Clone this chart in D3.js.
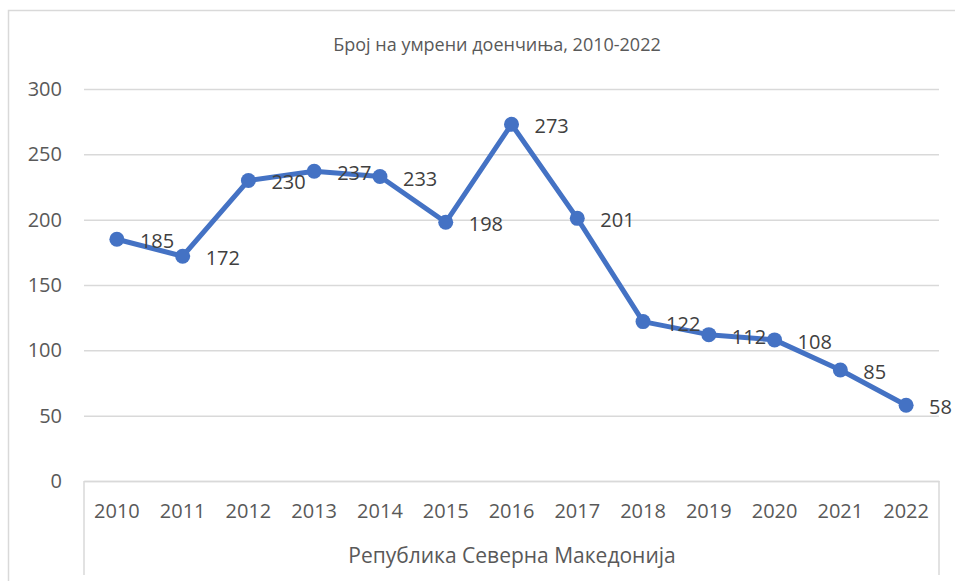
<html>
  <head>
    <script src="https://d3js.org/d3.v7.min.js"></script>
    <style>
      body { margin: 0; background: #fff; }
      text { font-family: "Open Sans", "Noto Sans", sans-serif; }
    </style>
  </head>
  <body>
<div id="chart"></div>
<script>
// data
var years = ["2010","2011","2012","2013","2014","2015","2016","2017","2018","2019","2020","2021","2022"];
var deaths = [185, 172, 230, 237, 233, 198, 273, 201, 122, 112, 108, 85, 58];
var yTicks = [0, 50, 100, 150, 200, 250, 300];
var chartTitle = "Број на умрени доенчиња, 2010-2022";
var groupLabel = "Република Северна Македонија";

var W = 955, H = 581;
var plot = {left: 84, right: 939, top: 89, bottom: 481};

var svg = d3.select("#chart").append("svg")
  .attr("width", W)
  .attr("height", H);

// outer chart border (only top and left visible in the frame)
svg.append("path")
  .attr("d", "M8.5," + (H + 5) + "V10.5H" + (W + 5))
  .attr("fill", "none")
  .attr("stroke", "#d9d9d9")
  .attr("stroke-width", 1.5);

var x = d3.scaleBand()
  .domain(years)
  .range([plot.left, plot.right])
  .padding(0);

var y = d3.scaleLinear()
  .domain([0, 300])
  .range([plot.bottom, plot.top]);

// gridlines + y labels
var yAxis = svg.append("g")
  .attr("transform", "translate(" + plot.left + ",0)")
  .call(d3.axisLeft(y).tickValues(yTicks).tickSize(-(plot.right - plot.left)).tickPadding(22));
yAxis.select(".domain").remove();
yAxis.selectAll(".tick line").attr("stroke", "#d9d9d9").attr("stroke-width", 1.5);
yAxis.selectAll(".tick text")
  .attr("fill", "#595959")
  .style("font-size", "20px");

// x axis line and category labels
var xAxis = svg.append("g")
  .attr("transform", "translate(0," + plot.bottom + ")")
  .call(d3.axisBottom(x).tickSize(0).tickPadding(23));
xAxis.select(".domain").attr("stroke", "#d9d9d9").attr("stroke-width", 1.5);
xAxis.selectAll(".tick text")
  .attr("fill", "#595959")
  .style("font-size", "20px");

// group bracket lines at both ends
[plot.left, plot.right].forEach(function (px) {
  svg.append("line")
    .attr("x1", px).attr("x2", px)
    .attr("y1", plot.bottom).attr("y2", H - 6)
    .attr("stroke", "#d9d9d9")
    .attr("stroke-width", 1.5);
});

svg.append("text")
  .attr("x", 512)
  .attr("y", 563)
  .attr("text-anchor", "middle")
  .attr("fill", "#595959")
  .style("font-size", "21px")
  .text(groupLabel);

// title
svg.append("text")
  .attr("x", 497)
  .attr("y", 51)
  .attr("text-anchor", "middle")
  .attr("fill", "#595959")
  .style("font-size", "18px")
  .text(chartTitle);

var cx = function (d, i) { return x(years[i]) + x.bandwidth() / 2; };

// line
var line = d3.line()
  .x(function (d, i) { return cx(d, i); })
  .y(function (d) { return y(d); });

svg.append("path")
  .datum(deaths)
  .attr("d", line)
  .attr("fill", "none")
  .attr("stroke", "#4472c4")
  .attr("stroke-width", 5)
  .attr("stroke-linejoin", "round");

// markers
svg.append("g")
  .selectAll("circle")
  .data(deaths)
  .enter()
  .append("circle")
    .attr("cx", cx)
    .attr("cy", function (d) { return y(d); })
    .attr("r", 7.5)
    .attr("fill", "#4472c4");

// data labels to the right
svg.append("g")
  .selectAll("text")
  .data(deaths)
  .enter()
  .append("text")
    .attr("x", function (d, i) { return cx(d, i) + 23; })
    .attr("y", function (d) { return y(d) + 2; })
    .attr("dy", "0.35em")
    .attr("fill", "#404040")
    .style("font-size", "20px")
    .text(function (d) { return d; });
</script>
  </body>
</html>
